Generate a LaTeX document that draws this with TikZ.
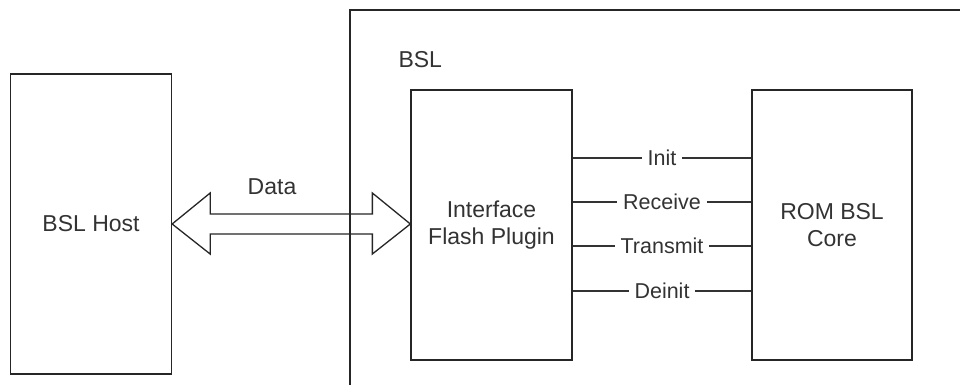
\documentclass[tikz,border=0pt]{standalone}
\usepackage{fontspec}
\setmainfont{Liberation Sans}
\begin{document}
\begin{tikzpicture}[x=1pt,y=-1pt,
  box/.style={draw=black!85,line width=1.3pt,inner sep=0pt},
  txt/.style={text=black!80,font=\fontsize{23}{27}\selectfont,align=center},
  lbl/.style={fill=white,text=black!80,font=\fontsize{21.5}{25}\selectfont,inner xsep=6pt,inner ysep=3pt},
  wire/.style={draw=black!80,line width=1.3pt}]
\useasboundingbox (0,0) rectangle (960,385);
\clip (0,0) rectangle (960,385);
\fill[white] (0,0) rectangle (960,385);
% outer BSL container (cut off at right and bottom)
\draw[black!85,line width=1.3pt] (350,395) -- (350,10) -- (975,10);
\node[txt,anchor=west] (bsl) at (395,60) {BSL};
% boxes
\node[box,minimum width=161pt,minimum height=300pt] (host) at (91,224) {};
\node[txt] (hostt) at (host.center) {BSL Host};
\node[box,minimum width=161pt,minimum height=270pt] (iface) at (491.5,225) {};
\node[txt] (ifacet) at (iface.center) {Interface\\Flash Plugin};
\node[box,minimum width=160pt,minimum height=270pt] (rom) at (832,225) {};
\node[txt] (romt) at (rom.center) {ROM BSL\\Core};
% double arrow
\coordinate (la) at (host.east |- 0,224);
\coordinate (ra) at (iface.west |- 0,224);
\draw[black!85,line width=1.3pt,line join=miter]
  (la) -- ([xshift=38pt,yshift=-30pt]la) -- ([xshift=38pt,yshift=-10pt]la)
  -- ([xshift=-38pt,yshift=-10pt]ra) -- ([xshift=-38pt,yshift=-30pt]ra)
  -- (ra) -- ([xshift=-38pt,yshift=31pt]ra) -- ([xshift=-38pt,yshift=10pt]ra)
  -- ([xshift=38pt,yshift=10pt]la) -- ([xshift=38pt,yshift=31pt]la) -- cycle;
\node[txt] (data) at (272,187) {Data};
% interface wires
\draw[wire] (iface.east |- 0,158) -- node[lbl] (l1) {Init} (rom.west |- 0,158);
\draw[wire] (iface.east |- 0,202) -- node[lbl] (l2) {Receive} (rom.west |- 0,202);
\draw[wire] (iface.east |- 0,246) -- node[lbl] (l3) {Transmit} (rom.west |- 0,246);
\draw[wire] (iface.east |- 0,291) -- node[lbl] (l4) {Deinit} (rom.west |- 0,291);
\end{tikzpicture}
\end{document}
